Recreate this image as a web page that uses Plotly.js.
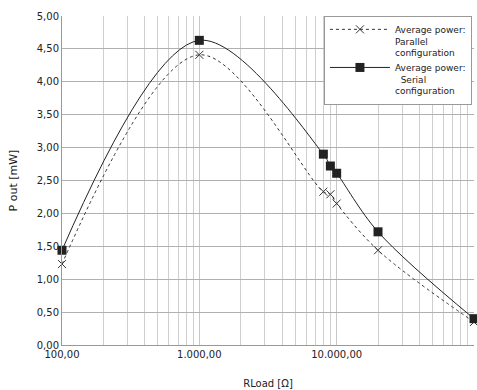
<!DOCTYPE html>
<html>
<head>
<meta charset="utf-8">
<script src="https://cdn.plot.ly/plotly-3.0.1.min.js"></script>
<style>html,body{margin:0;padding:0;background:#fff;}#chart{width:477px;height:390px;}</style>
</head>
<body>
<div id="chart"></div>
<script>
// Load resistance values [Ω]
const rLoad = [100, 1000, 8000, 9000, 10000, 20000, 100000];
// Average power, parallel configuration [mW]
const parallelPower = [1.23, 4.41, 2.33, 2.29, 2.15, 1.44, 0.35];
// Average power, serial configuration [mW]
const serialPower = [1.44, 4.63, 2.90, 2.72, 2.61, 1.72, 0.40];
// Axis tick values
const xMajorTicks = [100, 1000, 10000, 100000];
const xMinorTicks = [200,300,400,500,600,700,800,900,2000,3000,4000,5000,6000,7000,8000,9000,20000,30000,40000,50000,60000,70000,80000,90000];
const yTicks = [0,0.5,1,1.5,2,2.5,3,3.5,4,4.5,5];

const font = 'DejaVu Sans, sans-serif';
const traces = [
  {
    x: rLoad, y: parallelPower, type: 'scatter', mode: 'lines+markers',
    name: 'Average power:<br>Parallel<br>configuration',
    line: {color: '#333333', width: 1, dash: 'dot', shape: 'spline', smoothing: 1},
    marker: {symbol: 'x-thin-open', size: 8, color: '#333333', line: {color: '#333333', width: 1}},
    cliponaxis: false
  },
  {
    x: rLoad, y: serialPower, type: 'scatter', mode: 'lines+markers',
    name: 'Average power:<br>  Serial<br>configuration',
    line: {color: '#222222', width: 1, shape: 'spline', smoothing: 1},
    marker: {symbol: 'square', size: 9, color: '#222222'},
    cliponaxis: false
  }
];

const layout = {
  width: 477, height: 390,
  margin: {l: 62, r: 3, t: 16, b: 45},
  paper_bgcolor: '#ffffff', plot_bgcolor: '#ffffff',
  separators: ',.',
  font: {family: font, size: 10, color: '#222222'},
  showlegend: true,
  legend: {
    x: 0.995, xanchor: 'right', y: 1, yanchor: 'top',
    bgcolor: '#ffffff', bordercolor: '#999999', borderwidth: 1,
    font: {family: font, size: 9, color: '#222222'},
    itemwidth: 60, valign: 'top', tracegroupgap: 2
  },
  xaxis: {
    type: 'log', range: [2, 5],
    tickmode: 'array', tickvals: xMajorTicks, tickformat: ',.2f',
    showgrid: true, gridcolor: '#c8c8c8', gridwidth: 1,
    minor: {tickmode: 'array', tickvals: xMinorTicks, showgrid: true, gridcolor: '#cfcfcf', gridwidth: 1, ticks: ''},
    showline: true, linecolor: '#999999', linewidth: 1,
    ticks: '', zeroline: false,
    tickfont: {family: font, size: 10, color: '#222222'},
    title: {text: 'RLoad [Ω]', font: {family: font, size: 10, color: '#222222'}, standoff: 20},
    automargin: false
  },
  yaxis: {
    range: [0, 5], tickmode: 'array', tickvals: yTicks, tickformat: ',.2f',
    showgrid: true, gridcolor: '#b0b0b0', gridwidth: 1,
    showline: true, linecolor: '#999999', linewidth: 1,
    ticks: '', zeroline: false,
    tickfont: {family: font, size: 10, color: '#222222'},
    title: {text: 'P out [mW]', font: {family: font, size: 11, color: '#222222'}, standoff: 16},
    automargin: false
  }
};

Plotly.newPlot('chart', traces, layout, {staticPlot: true, displayModeBar: false});
</script>
</body>
</html>
